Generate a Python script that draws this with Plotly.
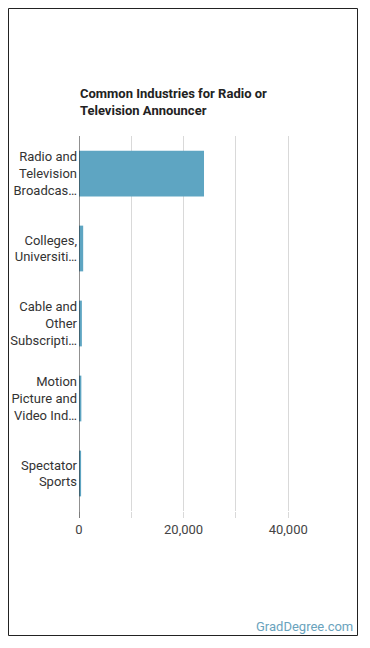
import plotly.graph_objects as go

categories = ["Radio and<br>Television<br>Broadcas…", "Colleges,<br>Universiti…",
              "Cable and<br>Other<br>Subscripti…", "Motion<br>Picture and<br>Video Ind…",
              "Spectator<br>Sports"]
values = [23900, 800, 550, 450, 400]
tick_vals = [0, 10000, 20000, 30000, 40000]
tick_text = ["0", "", "20,000", "", "40,000"]

W, H = 370, 648
L, R, T, B = 79, 30, 136, 137
pw, ph = W - L - R, H - T - B

fig = go.Figure(go.Bar(
    x=values, y=categories, orientation="h",
    marker=dict(color="#5ea5c2", line=dict(width=0)),
    width=0.61,
))

def px_x(p):
    return (p - L) / pw

def px_y(p):
    return (H - B - p) / ph

fig.update_layout(
    width=W, height=H,
    margin=dict(l=L, r=R, t=T, b=B, autoexpand=False),
    paper_bgcolor="white", plot_bgcolor="white",
    font=dict(family="Roboto", size=13, color="#333"),
    showlegend=False,
    xaxis=dict(range=[0, 49900], tickvals=tick_vals, ticktext=tick_text,
               showgrid=True, gridcolor="#d9d9d9", gridwidth=1, automargin=False,
               zeroline=False, ticks="outside", ticklen=6, tickcolor="#d9d9d9",
               tickfont=dict(size=13, color="#444"), showline=False, fixedrange=True),
    yaxis=dict(autorange="reversed", showgrid=False, zeroline=False, ticks="",
               ticklabelstandoff=1, automargin=False,
               tickfont=dict(size=13, color="#333"), showline=False, fixedrange=True),
    shapes=[
        dict(type="rect", xref="paper", yref="paper",
             x0=px_x(8.5), x1=px_x(357.5), y0=px_y(635.5), y1=px_y(8.5),
             line=dict(color="#222", width=1), fillcolor="rgba(0,0,0,0)", layer="below"),
        dict(type="line", xref="x", yref="paper", x0=0, x1=0, y0=px_y(518), y1=1,
             line=dict(color="#222", width=1)),
    ],
    annotations=[
        dict(text="<b>Common Industries for Radio or<br>Television Announcer</b>",
             xref="paper", yref="paper", x=px_x(78), y=px_y(84), xanchor="left", yanchor="top",
             align="left", showarrow=False, font=dict(size=13, color="#222")),
        dict(text="GradDegree.com", xref="paper", yref="paper", x=px_x(355), y=px_y(626),
             xanchor="right", yanchor="middle", showarrow=False,
             font=dict(size=13, color="#6aa3bd")),
    ],
)

fig.write_html("out.html")
